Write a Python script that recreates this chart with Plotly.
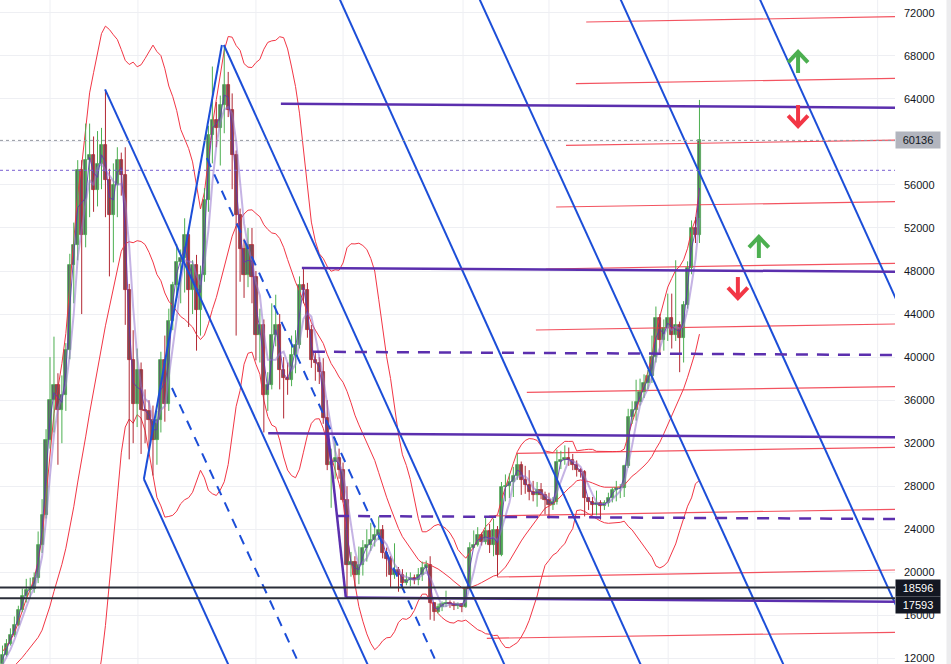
import plotly.graph_objects as go
import pandas as pd

# ---------------- data (weekly candles) ----------------
lead_in_close = [9700, 9500, 9300, 9100, 9200, 9300, 9200, 9700, 11000, 11700,
                 11900, 11700, 11700, 10300, 10300, 11100, 10700, 10600, 11300, 11500]

close = [12300, 13300, 14200, 15100, 16500, 17800, 18400, 18500, 19500, 22500,
         25300, 32300, 36000, 37400, 35100, 36500, 40700, 48600, 50400, 57400,
         51300, 58300, 58800, 55500, 57900, 59700, 56500, 53200, 56000, 58300,
         56900, 46200, 39700, 35600, 38800, 35100, 35000, 34200, 32300, 34200,
         39700, 35600, 43400, 46700, 48800, 49200, 51300, 46200, 48600, 44400,
         47600, 54600, 60600, 62000, 61300, 63400, 65300, 63000, 58800, 53200,
         50000, 47600, 50400, 47400, 42100, 43000, 36500, 37400, 42100, 43000,
         38800, 38100, 37900, 40200, 41100, 46700, 46200, 42500, 39700, 39500,
         38600, 34300, 30000, 30300, 30600, 29500, 26700, 20700, 21000, 19800,
         20700, 22300, 22500, 23000, 23500, 23900, 21800, 21200, 19800, 20200,
         19800, 19000, 19300, 19500, 19300, 19800, 20400, 20700, 17200, 16300,
         16800, 17100, 17200, 17100, 16900, 17100, 16800, 18500, 22300, 22500,
         23500, 22800, 23800, 22500, 23900, 21600, 27900, 28000, 28400, 29000,
         30000, 28600, 28100, 27500, 27200, 27700, 27200, 26700, 26300, 26500,
         30300, 30400, 30600, 30400, 30000, 29500, 29300, 26900, 26500, 26300,
         26400, 26200, 26400, 26900, 27700, 27800, 27800, 29900, 34400, 35100,
         35800, 36800, 37600, 38200, 40000, 43600, 41600, 42700, 43600, 42100,
         43000, 41800, 44800, 48300, 52000, 51300, 60136]

high = [13200, 13800, 14800, 15900, 16900, 18500, 19400, 19500, 20000, 23800,
        26800, 33300, 40000, 41900, 38500, 38300, 41300, 49600, 52500, 58300,
        58300, 61700, 61700, 60500, 61000, 61300, 64800, 57500, 58000, 59500,
        59000, 59500, 46800, 42500, 40800, 39500, 37000, 36000, 35500, 35000,
        40500, 42000, 44500, 47000, 50500, 50000, 52900, 52000, 49000, 49500,
        48500, 55700, 61500, 67000, 63700, 64300, 69000, 66500, 64500, 59200,
        53800, 51000, 52000, 52000, 48000, 44500, 43500, 38600, 45000, 45800,
        44000, 40000, 39500, 42000, 42500, 47500, 48200, 46900, 43000, 40500,
        40000, 39900, 36000, 31500, 32500, 31500, 30200, 28000, 21900, 21500,
        22400, 23000, 24000, 24600, 24400, 25200, 24400, 22300, 21500, 22700,
        20500, 20300, 20000, 20000, 19800, 20400, 21000, 21100, 21500, 17200,
        17100, 17300, 18300, 17400, 17300, 17200, 17100, 18600, 22800, 23900,
        24200, 23700, 25200, 24500, 25000, 24300, 28400, 29100, 29200, 29800,
        31000, 30300, 29900, 29500, 28500, 28400, 28300, 27500, 27400, 27000,
        31400, 31300, 31800, 31600, 31000, 30400, 29700, 29500, 26900, 27000,
        27600, 26700, 26700, 27400, 27900, 28500, 28200, 30000, 35200, 35900,
        37900, 38000, 38400, 38800, 42000, 44700, 44000, 43500, 45900, 45900,
        49000, 43300, 45200, 48900, 52700, 53000, 63900]

low = [11200, 12200, 13200, 14000, 15000, 16300, 17200, 17600, 18100, 19000,
       21800, 25000, 31500, 33000, 30000, 32000, 35000, 39800, 45000, 49000,
       44000, 50200, 53000, 53500, 54000, 55600, 53000, 47500, 48800, 53000,
       55000, 43000, 30500, 32000, 33500, 31000, 32000, 31500, 29000, 30000,
       33000, 34000, 35000, 42500, 45500, 45000, 46000, 42800, 44000, 40600,
       42000, 47000, 53500, 58000, 59500, 57800, 60800, 62300, 55600, 42000,
       47000, 45500, 46500, 45000, 39700, 39500, 33000, 35000, 37000, 41000,
       37000, 34300, 36500, 37300, 38500, 40800, 45000, 41800, 39000, 37800,
       37500, 33800, 29500, 26000, 28700, 28700, 26500, 17600, 19600, 18600,
       18900, 19700, 21000, 22000, 22400, 23000, 21300, 19600, 18600, 19400,
       18200, 18400, 18800, 18700, 18900, 18800, 19200, 20100, 15600, 15500,
       16200, 16400, 16800, 16700, 16500, 16600, 16300, 16700, 18400, 22300,
       22400, 22500, 22600, 21800, 21500, 19600, 21500, 26600, 26900, 27000,
       28600, 27200, 27300, 26700, 26600, 26100, 26800, 25400, 25000, 25800,
       26300, 29600, 30000, 29900, 29500, 28900, 28800, 25200, 25800, 25300,
       25300, 24900, 25800, 26100, 26500, 26600, 26900, 27000, 29700, 33800,
       34100, 35500, 36200, 37000, 37600, 39500, 40200, 40600, 41500, 40800,
       41500, 38600, 39500, 44500, 47700, 50600, 50600]

price_ticks = list(range(12000, 72001, 4000))
hidden_tick = 60000          # covered by the last-price label in the reference
time_grid_idx = [12.0, 34.2, 64.0, 86.0, 116.3, 138.0, 168.1, 190.0, 221.0]

# drawings (x = candle index, y = price): (x0, y0, x1, y1)
blue_solid = [(25.9, 64880, 96.3, 8140), (35.7, 28676, 61.1, 8140),
              (35.7, 28676, 55.4, 69000), (55.9, 69000, 130.8, 8140),
              (84.1, 74110, 165.2, 8140), (119.4, 74110, 201.3, 8140),
              (155.0, 74110, 236.5, 8140), (190.2, 74110, 271.6, 8140)]
blue_dashed = [(51.6, 58500, 113.9, 8140), (42.8, 37130, 79.1, 8140)]
purple_solid = [(70.3, 63545, 225.4, 63173), (75.6, 48280, 225.4, 47936),
                (67.1, 32922, 225.4, 32551), (82.2, 32950, 86.7, 17666),
                (86.7, 17666, 225.4, 17276)]
purple_dashed = [(78.4, 40503, 225.4, 40197), (84.5, 25240, 225.4, 24960)]
red_fan = [(147.4, 71136, 225.4, 71628), (144.8, 65404, 225.4, 65905),
           (142.3, 59680, 225.4, 60154), (139.8, 53948, 225.4, 54440),
           (137.2, 48187, 225.4, 48717), (134.7, 42520, 225.4, 43078),
           (132.4, 36731, 225.4, 37252), (129.9, 31063, 225.4, 31621),
           (122.9, 25239, 225.4, 25861), (124.9, 19572, 225.4, 20222),
           (122.3, 13876, 225.4, 14433)]
# arrows: (x, y_tail, y_tip)
up_arrows = [(200.9, 66400, 68350), (191.0, 49210, 51160)]
down_arrows = [(200.9, 63420, 61470), (185.7, 47440, 45490)]
last_price = 60136
level_a, level_b = 18596, 17593
dotted_level = 57357

# ---------------- derived ----------------
n = len(close)
idx = list(range(n))
opn = [lead_in_close[-1]] + close[:-1]
s = pd.Series(lead_in_close + close, dtype=float)
mid = s.rolling(20).mean()
sd = s.rolling(20).std(ddof=0)
upper = (mid + 2 * sd).iloc[-n:].tolist()
lower = (mid - 2 * sd).iloc[-n:].tolist()
mid = mid.iloc[-n:].tolist()
ma_fast = s.rolling(2).mean().iloc[-n:].tolist()
ma_slow = s.rolling(4).mean().iloc[-n:].tolist()

GREEN = '#4caf50'
RED = '#b22833'
fig = go.Figure()


def seg_trace(segs, color, width, dash='solid', opacity=1.0):
    xs, ys = [], []
    for x0, y0, x1, y1 in segs:
        xs += [x0, x1, None]
        ys += [y0, y1, None]
    return go.Scatter(x=xs, y=ys, mode='lines', opacity=opacity,
                      line=dict(color=color, width=width, dash=dash),
                      hoverinfo='skip', showlegend=False)


# bollinger bands
for band in (upper, mid, lower):
    fig.add_trace(go.Scatter(x=idx, y=band, mode='lines',
                             line=dict(color='#f23645', width=1),
                             hoverinfo='skip', showlegend=False))

# red fan
fig.add_trace(seg_trace(red_fan, '#f23645', 1.2, opacity=0.85))

# wicks
for up in (True, False):
    xs, ys = [], []
    for i in idx:
        if (close[i] >= opn[i]) == up:
            xs += [i, i, None]
            ys += [low[i], high[i], None]
    fig.add_trace(go.Scatter(x=xs, y=ys, mode='lines',
                             line=dict(color=GREEN if up else RED, width=1),
                             hoverinfo='skip', showlegend=False))

# bodies
fig.add_trace(go.Bar(
    x=idx,
    y=[abs(c - o) for o, c in zip(opn, close)],
    base=[min(o, c) for o, c in zip(opn, close)],
    width=0.8,
    marker=dict(color='#5d606b',
                line=dict(color=[GREEN if c >= o else RED for o, c in zip(opn, close)],
                          width=0.8)),
    hoverinfo='skip', showlegend=False))

# moving averages
fig.add_trace(go.Scatter(x=idx, y=ma_slow, mode='lines',
                         line=dict(color='rgba(149,117,205,0.55)', width=2),
                         hoverinfo='skip', showlegend=False))
fig.add_trace(go.Scatter(x=idx, y=ma_fast, mode='lines',
                         line=dict(color='rgba(94,53,177,0.85)', width=1),
                         hoverinfo='skip', showlegend=False))

# trend drawings
fig.add_trace(seg_trace(blue_solid, '#1c4ed8', 2))
fig.add_trace(seg_trace(blue_dashed, '#1c4ed8', 2, dash='10px,8px'))
fig.add_trace(seg_trace(purple_solid, '#5b2fae', 2.5))
fig.add_trace(seg_trace(purple_dashed, '#5b2fae', 2.5, dash='12px,9px'))

# arrows
for (x, ytail, ytip), col in [(a, '#4caf50') for a in up_arrows] + \
                             [(a, '#f23645') for a in down_arrows]:
    arm = (ytip - ytail) * 0.5
    xs = [x, x, None, x - 2.5, x, x + 2.5]
    ys = [ytail, ytip, None, ytip - arm, ytip, ytip - arm]
    fig.add_trace(go.Scatter(x=xs, y=ys, mode='lines',
                             line=dict(color=col, width=4),
                             hoverinfo='skip', showlegend=False))

shapes = []
for gx in time_grid_idx:
    shapes.append(dict(type='line', xref='x', yref='paper', x0=gx, x1=gx, y0=0, y1=1,
                       line=dict(color='#eeeff3', width=1), layer='below'))
shapes += [
    dict(type='line', xref='paper', yref='y', x0=0, x1=1, y0=last_price, y1=last_price,
         line=dict(color='#9598a1', width=1, dash='dot')),
    dict(type='line', xref='paper', yref='y', x0=0, x1=1, y0=dotted_level, y1=dotted_level,
         line=dict(color='#7b61d1', width=1, dash='dot')),
    dict(type='line', xref='paper', yref='y', x0=0, x1=1, y0=level_a, y1=level_a,
         line=dict(color='#2a2e39', width=2)),
    dict(type='line', xref='paper', yref='y', x0=0, x1=1, y0=level_b, y1=level_b,
         line=dict(color='#2a2e39', width=2)),
    dict(type='rect', xref='paper', yref='paper', x0=1.0575, x1=1.07, y0=0, y1=1,
         fillcolor='#ececee', line=dict(width=0)),
]

FONT = 'Liberation Sans, Arial, sans-serif'
annotations = [
    dict(xref='paper', x=1, xanchor='left', yref='y', y=last_price, text=str(last_price),
         showarrow=False, bgcolor='#b2b5be', font=dict(color='#131722', size=11, family=FONT),
         width=42, height=14, borderpad=1),
    dict(xref='paper', x=1, xanchor='left', yref='y', y=level_a, text=str(level_a),
         showarrow=False, bgcolor='#131722', font=dict(color='#ffffff', size=11, family=FONT),
         width=42, height=14, borderpad=1, yshift=-1),
    dict(xref='paper', x=1, xanchor='left', yref='y', y=level_b, text=str(level_b),
         showarrow=False, bgcolor='#131722', font=dict(color='#ffffff', size=11, family=FONT),
         width=42, height=14, borderpad=1, yshift=-7),
]

fig.update_layout(
    width=951, height=664,
    margin=dict(l=0, r=56, t=0, b=0),
    paper_bgcolor='white', plot_bgcolor='white',
    showlegend=False,
    shapes=shapes, annotations=annotations,
    xaxis=dict(range=[-0.63, 225.38], showgrid=False, zeroline=False,
               showticklabels=False, ticks='', fixedrange=True),
    yaxis=dict(range=[11487, 73180], side='right', tickvals=price_ticks,
               ticktext=['' if t == hidden_tick else str(t) for t in price_ticks],
               showgrid=True, gridcolor='#eeeff3', zeroline=False,
               tickfont=dict(color='#131722', size=11, family=FONT),
               ticks='', ticklabelstandoff=8, ticklabeloverflow='allow',
               automargin=False),
    bargap=0,
)

fig.write_html('out.html', config={'displayModeBar': False},
               post_script="document.body.style.margin='0';document.body.style.overflow='hidden';")
